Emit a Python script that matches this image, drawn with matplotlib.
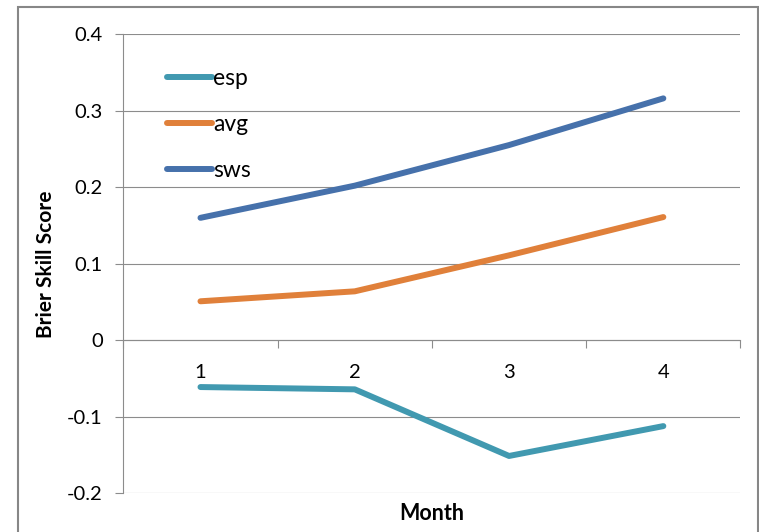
import matplotlib
matplotlib.use('Agg')
import matplotlib.pyplot as plt
from matplotlib.patches import Rectangle

plt.rcParams['font.family'] = ['Lato', 'DejaVu Sans']

# Brier skill score by lead month
months = ['1', '2', '3', '4']
esp = [-0.061, -0.064, -0.151, -0.112]
avg = [0.051, 0.064, 0.111, 0.161]
sws = [0.160, 0.202, 0.255, 0.316]

series_names = ['esp', 'avg', 'sws']
series_colors = ['#4199B0', '#E0803A', '#4671AB']
grid_color = '#8C8C8C'


def main():
    fig = plt.figure(figsize=(7.59, 5.32), dpi=100)
    ax = fig.add_axes([0.1625, 0.0724, 0.9756 - 0.1625, 0.936 - 0.0724])

    # chart border
    fig.patches.append(Rectangle((18 / 759, -0.05), 740 / 759, 1.05 - 7 / 532,
                                 transform=fig.transFigure, fill=False,
                                 edgecolor='#878787', linewidth=1.5))

    x = list(range(len(months)))
    for values, name, color in zip([esp, avg, sws], series_names, series_colors):
        ax.plot(x, values, color=color, linewidth=4.3, solid_capstyle='round',
                solid_joinstyle='round', label=name, zorder=3)

    ax.set_ylim(-0.2, 0.4)
    ax.set_yticks([-0.2, -0.1, 0, 0.1, 0.2, 0.3, 0.4])
    ax.set_yticklabels(['-0.2', '-0.1', '0', '0.1', '0.2', '0.3', '0.4'])
    ax.set_xlim(-0.5, len(months) - 0.5)

    # category boundaries get the tick marks, centres get the labels
    ax.set_xticks([i - 0.5 for i in range(len(months) + 1)])
    ax.set_xticklabels([])
    ax.set_xticks(x, minor=True)
    ax.set_xticklabels(months, minor=True)
    ax.tick_params(axis='x', which='major', direction='out', length=5.8,
                   width=0.8, color=grid_color)
    ax.tick_params(axis='x', which='minor', length=0, pad=17, labelsize=14.5)
    ax.tick_params(axis='y', direction='out', length=5.8, width=0.8,
                   color=grid_color, pad=9, labelsize=14.5)

    ax.grid(axis='y', color=grid_color, linewidth=0.8)
    ax.set_axisbelow(True)
    for side in ['top', 'right']:
        ax.spines[side].set_visible(False)
    ax.spines['bottom'].set_position(('data', 0))
    for side in ['left', 'bottom']:
        ax.spines[side].set_color(grid_color)
        ax.spines[side].set_linewidth(0.8)

    ax.set_ylabel('Brier Skill Score', fontsize=15, fontweight='bold', labelpad=8)
    fig.text((123.3 + 740.5) / 2 / 759, 1 - 513 / 532, 'Month', ha='center',
             va='center', fontsize=15.5, fontweight='bold')

    leg = ax.legend(loc='upper left',
                    bbox_to_anchor=((167 - 123.3) / 617.2, (493.5 - 68) / 459.5),
                    frameon=False, fontsize=16.5, handlelength=1.95, handletextpad=0.05,
                    labelspacing=1.1, borderpad=0, borderaxespad=0)
    for line in leg.get_lines():
        line.set_solid_capstyle('round')

    fig.savefig('out.png', dpi=100)


if __name__ == "__main__":
    main()
